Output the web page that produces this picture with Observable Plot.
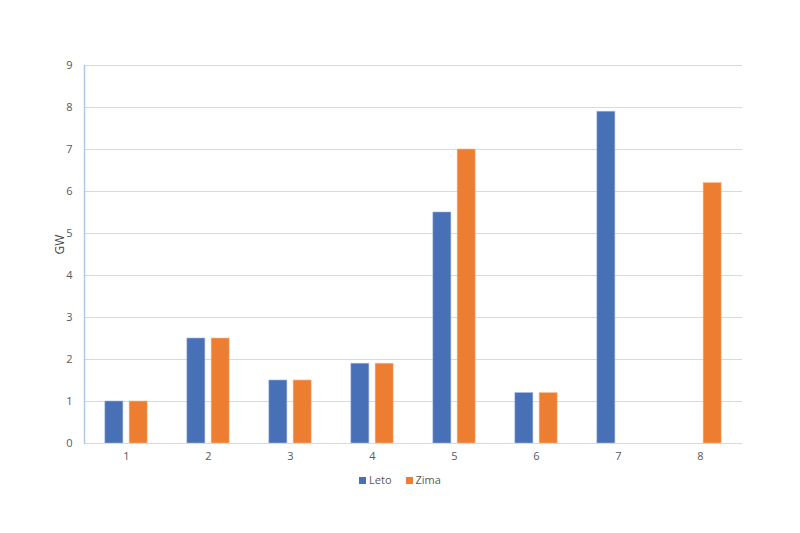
<!DOCTYPE html>
<html>
<head>
<meta charset="utf-8">
<script src="https://cdn.jsdelivr.net/npm/d3@7"></script>
<script src="https://cdn.jsdelivr.net/npm/@observablehq/plot@0.6"></script>
<style>
  html, body { margin: 0; padding: 0; background: #fff; }
  body { width: 800px; height: 533px; font-family: "Open Sans", "Liberation Sans", sans-serif; }
  #legend { display: flex; justify-content: center; align-items: center; gap: 14px; font-size: 11px; color: #595959; height: 20px; margin-top: 1px; }
  #legend span.sw { display: inline-block; width: 7px; height: 7px; margin-right: 3px; }
</style>
</head>
<body>
<div id="chart"></div>
<div id="legend"></div>
<script>
const categories = ["1", "2", "3", "4", "5", "6", "7", "8"];
const leto = [1, 2.5, 1.5, 1.9, 5.5, 1.2, 7.9, null];
const zima = [1, 2.5, 1.5, 1.9, 7.0, 1.2, null, 6.2];
const seriesNames = ["Leto", "Zima"];
const seriesColors = ["#4870b6", "#ed7d31"];
const yTicks = [0, 1, 2, 3, 4, 5, 6, 7, 8, 9];

const letoData = categories.map((c, i) => ({cat: c, v: leto[i]})).filter(d => d.v != null);
const zimaData = categories.map((c, i) => ({cat: c, v: zima[i]})).filter(d => d.v != null);

const width = 800, mL = 84, mR = 58;
const bw = (width - mL - mR) / categories.length;
const barW = 18.25, gap = 3;
const outer = bw / 2 - gap - barW;

const chart = Plot.plot({
  width, height: 468,
  marginLeft: mL, marginRight: mR, marginTop: 65, marginBottom: 25,
  style: {fontFamily: "'Open Sans', 'Liberation Sans', sans-serif", fontSize: "11px", color: "#595959", background: "#fff"},
  x: {domain: categories, padding: 0, label: null},
  y: {domain: [0, 9], label: null},
  marks: [
    Plot.gridY(yTicks, {stroke: "#d9d9d9", strokeOpacity: 1}),
    Plot.axisY(yTicks, {tickSize: 0, tickPadding: 12, label: null, fill: "#595959"}),
    Plot.axisX({tickSize: 0, tickPadding: 9, label: null, fill: "#595959"}),
    Plot.barY(letoData, {x: "cat", y: "v", fill: seriesColors[0], stroke: "#9fb4de", strokeWidth: 0.6, insetLeft: outer, insetRight: bw - outer - barW}),
    Plot.barY(zimaData, {x: "cat", y: "v", fill: seriesColors[1], stroke: "#f6b98f", strokeWidth: 0.6, insetLeft: bw - outer - barW, insetRight: outer}),
    Plot.ruleY([0], {stroke: "#d9d9d9"}),
    Plot.frame({anchor: "left", stroke: "#b4c7e7", strokeWidth: 1.5}),
    Plot.text(["GW"], {frameAnchor: "left", dx: -24, rotate: -90, fill: "#404040", fontSize: 12})
  ]
});
document.getElementById("chart").appendChild(chart);

const legend = document.getElementById("legend");
seriesNames.forEach((n, i) => {
  const item = document.createElement("span");
  item.innerHTML = `<span class="sw" style="background:${seriesColors[i]}"></span>${n}`;
  legend.appendChild(item);
});
</script>
</body>
</html>
